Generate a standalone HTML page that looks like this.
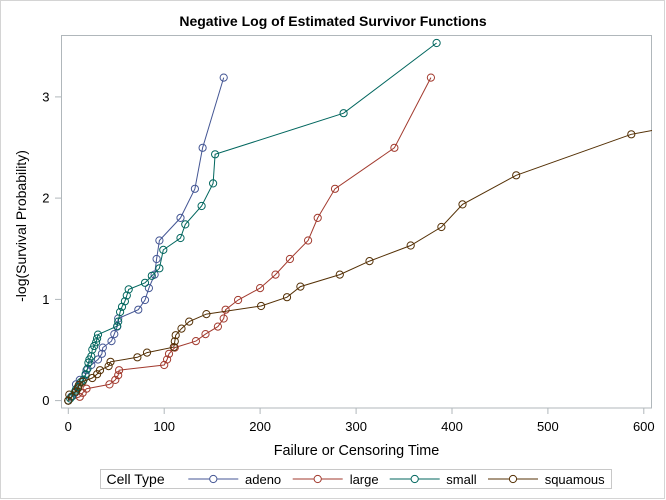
<!DOCTYPE html>
<html><head><meta charset="utf-8"><style>
html,body{margin:0;padding:0;background:#fff;}
svg{display:block;}
text{font-family:"Liberation Sans",Arial,sans-serif;}
</style></head><body>
<svg width="666" height="500" viewBox="0 0 666 500" xmlns="http://www.w3.org/2000/svg">
<rect x="0" y="0" width="666" height="500" fill="#fff"/>
<rect x="0.5" y="0.5" width="664" height="498" fill="none" stroke="#d4d4d4" stroke-width="1"/>
<text x="333" y="26" font-size="14" font-weight="bold" text-anchor="middle" fill="#000">Negative Log of Estimated Survivor Functions</text>
<defs><clipPath id="pc"><rect x="61" y="35" width="591" height="373"/></clipPath></defs>
<rect x="61.5" y="35.5" width="590" height="372.5" fill="none" stroke="#b0b7bb" stroke-width="1"/>
<g stroke="#b0b7bb" stroke-width="1">
<line x1="55" y1="400.6" x2="61" y2="400.6"/>
<line x1="55" y1="299.4" x2="61" y2="299.4"/>
<line x1="55" y1="198.1" x2="61" y2="198.1"/>
<line x1="55" y1="96.9" x2="61" y2="96.9"/>
<line x1="68.3" y1="408" x2="68.3" y2="414"/>
<line x1="164.2" y1="408" x2="164.2" y2="414"/>
<line x1="260.1" y1="408" x2="260.1" y2="414"/>
<line x1="356.1" y1="408" x2="356.1" y2="414"/>
<line x1="452" y1="408" x2="452" y2="414"/>
<line x1="547.9" y1="408" x2="547.9" y2="414"/>
<line x1="643.8" y1="408" x2="643.8" y2="414"/>
</g>
<g font-size="13" fill="#000" text-anchor="end">
<text x="49.5" y="405.2">0</text>
<text x="49.5" y="304">1</text>
<text x="49.5" y="202.7">2</text>
<text x="49.5" y="101.5">3</text>
</g>
<g font-size="13" fill="#000" text-anchor="middle">
<text x="68.3" y="431">0</text>
<text x="164.2" y="431">100</text>
<text x="260.1" y="431">200</text>
<text x="356.1" y="431">300</text>
<text x="452" y="431">400</text>
<text x="547.9" y="431">500</text>
<text x="643.8" y="431">600</text>
</g>
<text x="356.5" y="455" font-size="14.4" text-anchor="middle" fill="#000">Failure or Censoring Time</text>
<text transform="translate(26,226) rotate(-90)" font-size="14" text-anchor="middle" fill="#000">-log(Survival Probability)</text>

<g clip-path="url(#pc)" fill="none" stroke-width="1">
<!-- adeno -->
<g stroke="#445694">
<polyline points="68.3,400.6 71.2,396.8 75.0,392.8 76.0,384.4 79.8,379.9 85.6,375.2 86.5,370.2 91.3,365.0 98.0,359.5 101.9,353.8 102.8,347.6 111.5,341.1 114.3,334.1 117.2,326.6 118.2,318.5 138.3,309.7 145.0,300.0 148.9,288.1 154.6,274.6 156.6,259.0 159.4,240.5 180.5,217.9 194.9,188.8 202.6,147.8 223.7,77.6"/>
<g>
<circle cx="68.3" cy="400.6" r="3.6"/><circle cx="71.2" cy="396.8" r="3.6"/><circle cx="75.0" cy="392.8" r="3.6"/><circle cx="76.0" cy="384.4" r="3.6"/><circle cx="79.8" cy="379.9" r="3.6"/><circle cx="85.6" cy="375.2" r="3.6"/><circle cx="86.5" cy="370.2" r="3.6"/><circle cx="91.3" cy="365.0" r="3.6"/><circle cx="98.0" cy="359.5" r="3.6"/><circle cx="101.9" cy="353.8" r="3.6"/><circle cx="102.8" cy="347.6" r="3.6"/><circle cx="111.5" cy="341.1" r="3.6"/><circle cx="114.3" cy="334.1" r="3.6"/><circle cx="117.2" cy="326.6" r="3.6"/><circle cx="118.2" cy="318.5" r="3.6"/><circle cx="138.3" cy="309.7" r="3.6"/><circle cx="145.0" cy="300.0" r="3.6"/><circle cx="148.9" cy="288.1" r="3.6"/><circle cx="154.6" cy="274.6" r="3.6"/><circle cx="156.6" cy="259.0" r="3.6"/><circle cx="159.4" cy="240.5" r="3.6"/><circle cx="180.5" cy="217.9" r="3.6"/><circle cx="194.9" cy="188.8" r="3.6"/><circle cx="202.6" cy="147.8" r="3.6"/><circle cx="223.7" cy="77.6" r="3.6"/>
</g>
</g>
<!-- large -->
<g stroke="#a23a2e">
<polyline points="68.3,400.6 79.8,396.8 82.7,392.8 86.5,388.7 109.5,384.4 115.3,379.9 118.2,375.2 119.1,370.2 164.2,365.0 167.1,359.5 169.0,353.8 174.8,347.6 195.9,341.1 205.5,334.1 217.9,326.6 223.7,318.5 225.6,309.7 238.1,300.0 260.1,288.1 275.5,274.6 289.9,259.0 308.1,240.5 317.7,217.9 335.0,188.8 394.4,147.8 430.9,77.6"/>
<circle cx="68.3" cy="400.6" r="3.6"/><circle cx="79.8" cy="396.8" r="3.6"/><circle cx="82.7" cy="392.8" r="3.6"/><circle cx="86.5" cy="388.7" r="3.6"/><circle cx="109.5" cy="384.4" r="3.6"/><circle cx="115.3" cy="379.9" r="3.6"/><circle cx="118.2" cy="375.2" r="3.6"/><circle cx="119.1" cy="370.2" r="3.6"/><circle cx="164.2" cy="365.0" r="3.6"/><circle cx="167.1" cy="359.5" r="3.6"/><circle cx="169.0" cy="353.8" r="3.6"/><circle cx="174.8" cy="347.6" r="3.6"/><circle cx="195.9" cy="341.1" r="3.6"/><circle cx="205.5" cy="334.1" r="3.6"/><circle cx="217.9" cy="326.6" r="3.6"/><circle cx="223.7" cy="318.5" r="3.6"/><circle cx="225.6" cy="309.7" r="3.6"/><circle cx="238.1" cy="300.0" r="3.6"/><circle cx="260.1" cy="288.1" r="3.6"/><circle cx="275.5" cy="274.6" r="3.6"/><circle cx="289.9" cy="259.0" r="3.6"/><circle cx="308.1" cy="240.5" r="3.6"/><circle cx="317.7" cy="217.9" r="3.6"/><circle cx="335.0" cy="188.8" r="3.6"/><circle cx="394.4" cy="147.8" r="3.6"/><circle cx="430.9" cy="77.6" r="3.6"/>
</g>
<!-- small -->
<g stroke="#01665e">
<polyline points="68.3,400.6 70.2,398.5 72.1,396.3 75.0,391.8 76.0,389.5 77.9,387.1 80.8,382.1 83.6,379.6 85.6,374.2 87.5,368.6 88.4,362.7 89.4,359.5 91.3,356.3 92.3,349.6 94.2,346.0 96.1,342.3 97.1,338.5 98.0,334.6 117.2,326.1 118.2,321.6 120.1,312.0 122.0,306.8 124.9,301.3 126.8,295.5 128.7,289.4 145.0,282.8 151.8,275.8 159.4,268.3 163.3,249.9 180.5,238.0 185.3,224.4 201.6,206.0 213.1,183.4 215.1,154.3 343.6,113.2 436.6,43.0"/>
<circle cx="68.3" cy="400.6" r="3.6"/><circle cx="70.2" cy="398.5" r="3.6"/><circle cx="72.1" cy="396.3" r="3.6"/><circle cx="75.0" cy="391.8" r="3.6"/><circle cx="76.0" cy="389.5" r="3.6"/><circle cx="77.9" cy="387.1" r="3.6"/><circle cx="80.8" cy="382.1" r="3.6"/><circle cx="83.6" cy="379.6" r="3.6"/><circle cx="85.6" cy="374.2" r="3.6"/><circle cx="87.5" cy="368.6" r="3.6"/><circle cx="88.4" cy="362.7" r="3.6"/><circle cx="89.4" cy="359.5" r="3.6"/><circle cx="91.3" cy="356.3" r="3.6"/><circle cx="92.3" cy="349.6" r="3.6"/><circle cx="94.2" cy="346.0" r="3.6"/><circle cx="96.1" cy="342.3" r="3.6"/><circle cx="97.1" cy="338.5" r="3.6"/><circle cx="98.0" cy="334.6" r="3.6"/><circle cx="117.2" cy="326.1" r="3.6"/><circle cx="118.2" cy="321.6" r="3.6"/><circle cx="120.1" cy="312.0" r="3.6"/><circle cx="122.0" cy="306.8" r="3.6"/><circle cx="124.9" cy="301.3" r="3.6"/><circle cx="126.8" cy="295.5" r="3.6"/><circle cx="128.7" cy="289.4" r="3.6"/><circle cx="145.0" cy="282.8" r="3.6"/><circle cx="151.8" cy="275.8" r="3.6"/><circle cx="159.4" cy="268.3" r="3.6"/><circle cx="163.3" cy="249.9" r="3.6"/><circle cx="180.5" cy="238.0" r="3.6"/><circle cx="185.3" cy="224.4" r="3.6"/><circle cx="201.6" cy="206.0" r="3.6"/><circle cx="213.1" cy="183.4" r="3.6"/><circle cx="215.1" cy="154.3" r="3.6"/><circle cx="343.6" cy="113.2" r="3.6"/><circle cx="436.6" cy="43.0" r="3.6"/>
</g>
<!-- squamous -->
<g stroke="#543005">
<polyline points="68.3,400.6 69.3,394.6 76.0,391.5 77.9,388.3 78.9,385.0 82.7,381.6 92.3,378.0 97.1,374.2 100.0,370.2 108.6,366.1 110.5,361.8 137.4,357.3 147.0,352.6 173.8,347.1 174.8,341.3 175.7,335.2 181.5,328.6 189.2,321.6 206.4,314.1 261.1,306.0 287.0,297.2 300.4,286.6 339.8,274.6 369.5,261.1 410.7,245.5 441.4,227.0 462.5,204.4 516.2,175.3 631.3,134.3 1018.9,64.1"/>
<circle cx="68.3" cy="400.6" r="3.6"/><circle cx="69.3" cy="394.6" r="3.6"/><circle cx="76.0" cy="391.5" r="3.6"/><circle cx="77.9" cy="388.3" r="3.6"/><circle cx="78.9" cy="385.0" r="3.6"/><circle cx="82.7" cy="381.6" r="3.6"/><circle cx="92.3" cy="378.0" r="3.6"/><circle cx="97.1" cy="374.2" r="3.6"/><circle cx="100.0" cy="370.2" r="3.6"/><circle cx="108.6" cy="366.1" r="3.6"/><circle cx="110.5" cy="361.8" r="3.6"/><circle cx="137.4" cy="357.3" r="3.6"/><circle cx="147.0" cy="352.6" r="3.6"/><circle cx="173.8" cy="347.1" r="3.6"/><circle cx="174.8" cy="341.3" r="3.6"/><circle cx="175.7" cy="335.2" r="3.6"/><circle cx="181.5" cy="328.6" r="3.6"/><circle cx="189.2" cy="321.6" r="3.6"/><circle cx="206.4" cy="314.1" r="3.6"/><circle cx="261.1" cy="306.0" r="3.6"/><circle cx="287.0" cy="297.2" r="3.6"/><circle cx="300.4" cy="286.6" r="3.6"/><circle cx="339.8" cy="274.6" r="3.6"/><circle cx="369.5" cy="261.1" r="3.6"/><circle cx="410.7" cy="245.5" r="3.6"/><circle cx="441.4" cy="227.0" r="3.6"/><circle cx="462.5" cy="204.4" r="3.6"/><circle cx="516.2" cy="175.3" r="3.6"/><circle cx="631.3" cy="134.3" r="3.6"/>
</g>
</g>

<!-- legend -->
<rect x="100.5" y="469.5" width="511" height="19" fill="none" stroke="#c8c8c8" stroke-width="1"/>
<g font-size="13" fill="#000">
<text x="106.5" y="483.8" font-size="14">Cell Type</text>
<text x="245" y="483.8">adeno</text>
<text x="349.7" y="483.8">large</text>
<text x="446.3" y="483.8">small</text>
<text x="544.7" y="483.8">squamous</text>
</g>
<g fill="#fff" stroke-width="1">
<line x1="188.3" y1="479" x2="238.3" y2="479" stroke="#445694"/><circle cx="213.3" cy="479" r="3.6" stroke="#445694"/>
<line x1="292.7" y1="479" x2="342.7" y2="479" stroke="#a23a2e"/><circle cx="317.7" cy="479" r="3.6" stroke="#a23a2e"/>
<line x1="389.7" y1="479" x2="439.7" y2="479" stroke="#01665e"/><circle cx="414.7" cy="479" r="3.6" stroke="#01665e"/>
<line x1="488" y1="479" x2="538" y2="479" stroke="#543005"/><circle cx="513" cy="479" r="3.6" stroke="#543005"/>
</g>
</svg>
</body></html>
